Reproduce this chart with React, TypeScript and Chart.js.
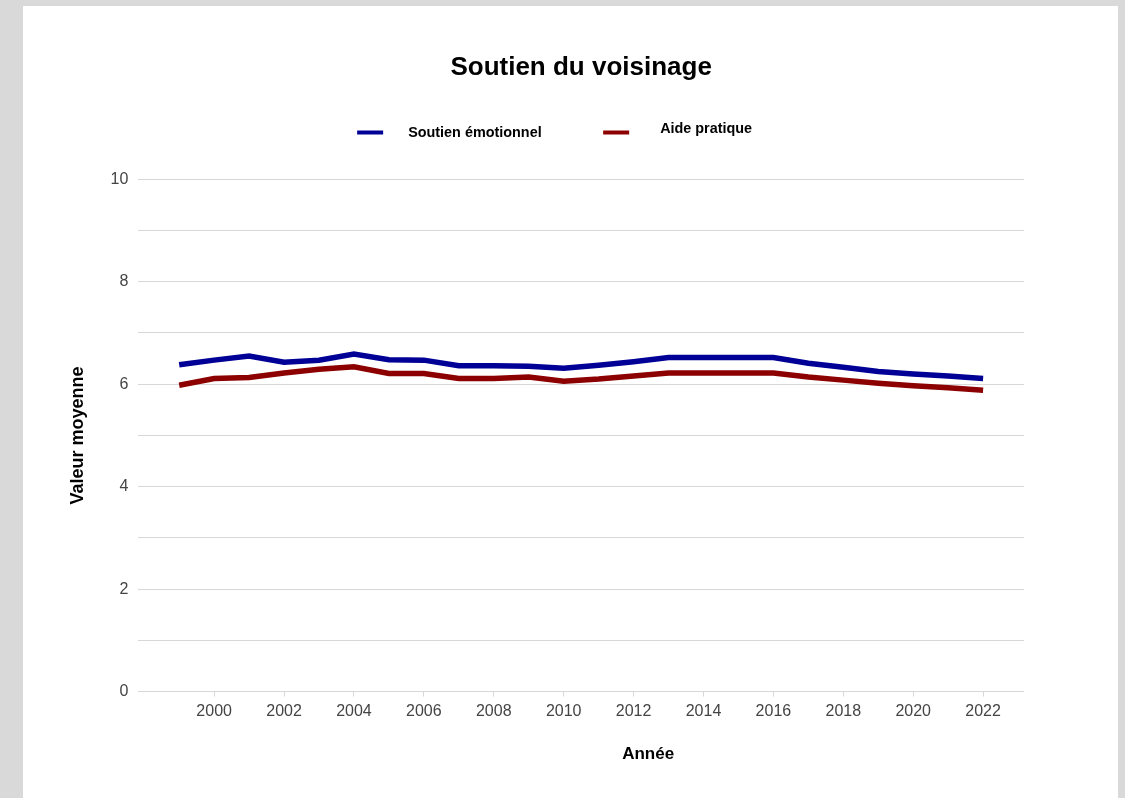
import React, { useEffect, useRef } from 'react';
import { Chart, registerables } from 'chart.js';

Chart.register(...registerables);

// ---- Data ----
const years = [1999, 2000, 2001, 2002, 2003, 2004, 2005, 2006, 2007, 2008, 2009, 2010, 2011, 2012, 2013, 2014, 2015, 2016, 2017, 2018, 2019, 2020, 2021, 2022];
const emotionalSupport = [6.38, 6.47, 6.55, 6.43, 6.47, 6.59, 6.48, 6.47, 6.36, 6.36, 6.35, 6.31, 6.37, 6.44, 6.52, 6.52, 6.52, 6.52, 6.41, 6.33, 6.25, 6.2, 6.16, 6.11];
const practicalHelp = [5.98, 6.11, 6.13, 6.22, 6.29, 6.34, 6.21, 6.21, 6.11, 6.11, 6.14, 6.06, 6.1, 6.16, 6.22, 6.22, 6.22, 6.22, 6.14, 6.08, 6.02, 5.97, 5.93, 5.88];
const xTickYears = [2000, 2002, 2004, 2006, 2008, 2010, 2012, 2014, 2016, 2018, 2020, 2022];
const seriesNames = ['Soutien émotionnel', 'Aide pratique'];
const seriesColors = ['#000096', '#8c0000'];
const chartTitle = 'Soutien du voisinage';
const xTitle = 'Année';
const yTitle = 'Valeur moyenne';

const FONT = "'Liberation Sans', Arial, Helvetica, sans-serif";

const decorPlugin = {
  id: 'decor',
  afterDraw(chart: any) {
    const { ctx, chartArea } = chart;
    const cx = (chartArea.left + chartArea.right) / 2;
    ctx.save();
    // legend
    const layout = [
      { mx: -224, tx: -173, base: 130.7 },
      { mx: 22, tx: 79, base: 126.7 },
    ];
    ctx.font = `bold 14.4px ${FONT}`;
    ctx.textAlign = 'left';
    ctx.textBaseline = 'alphabetic';
    chart.data.datasets.forEach((ds: any, i: number) => {
      const l = layout[i];
      ctx.fillStyle = ds.borderColor;
      ctx.fillRect(cx + l.mx, 124.5, 26, 4);
      ctx.fillStyle = '#000';
      ctx.fillText(ds.label, cx + l.tx, l.base);
    });
    // x axis title
    ctx.font = `bold 17px ${FONT}`;
    ctx.textAlign = 'center';
    ctx.fillStyle = '#000';
    ctx.fillText(xTitle, cx + 67, chartArea.bottom + 67);
    ctx.restore();
  },
};

export default function App() {
  const canvasRef = useRef<HTMLCanvasElement | null>(null);

  useEffect(() => {
    if (!canvasRef.current) return;
    Chart.defaults.font.family = FONT;
    const chart = new Chart(canvasRef.current, {
      type: 'line',
      data: {
        datasets: [
          {
            label: seriesNames[0],
            data: years.map((y, i) => ({ x: y, y: emotionalSupport[i] })),
            borderColor: seriesColors[0],
            backgroundColor: seriesColors[0],
            borderWidth: 5.5,
            pointRadius: 0,
            tension: 0,
            fill: false,
          },
          {
            label: seriesNames[1],
            data: years.map((y, i) => ({ x: y, y: practicalHelp[i] })),
            borderColor: seriesColors[1],
            backgroundColor: seriesColors[1],
            borderWidth: 5.5,
            pointRadius: 0,
            tension: 0,
            fill: false,
          },
        ],
      },
      options: {
        responsive: false,
        animation: false,
        layout: { padding: { left: 0, right: 94, top: 0, bottom: 72.2 } },
        plugins: {
          legend: { display: false },
          tooltip: { enabled: false },
          title: {
            display: true,
            text: chartTitle,
            fullSize: false,
            color: '#000',
            font: { size: 26, weight: 'bold', family: FONT },
            padding: { top: 46.7, bottom: 95.4 },
          },
        },
        scales: {
          x: {
            type: 'linear',
            min: 1997.83,
            max: 2023.17,
            afterBuildTicks: (scale: any) => {
              scale.ticks = xTickYears.map((v) => ({ value: v }));
            },
            ticks: {
              autoSkip: false,
              maxRotation: 0,
              padding: 5,
              color: '#444',
              font: { size: 16, family: FONT },
              callback: (v: any) => String(v),
            },
            grid: {
              drawOnChartArea: false,
              drawTicks: true,
              tickLength: 5,
              color: '#d8d8d8',
            },
            border: { display: false },
          },
          y: {
            min: 0,
            max: 10,
            ticks: {
              stepSize: 1,
              padding: 10,
              color: '#444',
              font: { size: 16, family: FONT },
              callback: (v: any) => (Number(v) % 2 === 0 ? String(v) : ''),
            },
            grid: {
              drawTicks: false,
              color: '#d8d8d8',
              lineWidth: 1,
            },
            border: { display: false },
            title: {
              display: true,
              text: yTitle,
              color: '#000',
              font: { size: 18, weight: 'bold', family: FONT },
              padding: { top: 44.2, bottom: 11.7 },
            },
          },
        },
      },
      plugins: [decorPlugin],
    } as any);
    return () => chart.destroy();
  }, []);

  return (
    <div style={{ position: 'absolute', left: 0, top: 0, width: 1125, height: 798, background: '#d9d9d9', overflow: 'hidden' }}>
      <div style={{ position: 'absolute', left: 23, top: 6, width: 1095, height: 792, background: '#ffffff', overflow: 'hidden' }}>
        <canvas ref={canvasRef} width={1095} height={792} style={{ display: 'block' }} />
      </div>
    </div>
  );
}
